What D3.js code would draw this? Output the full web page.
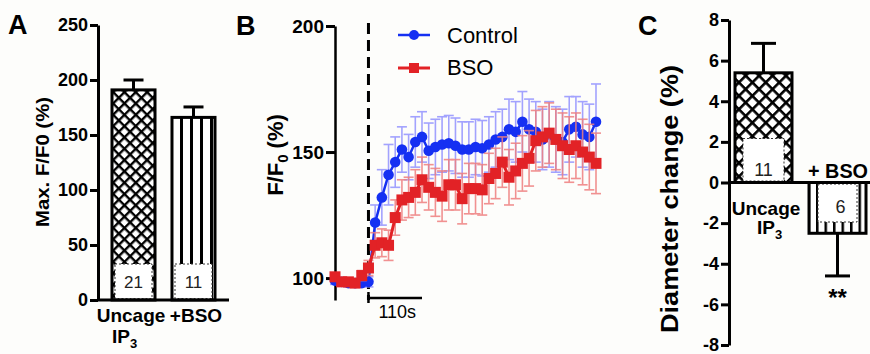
<!DOCTYPE html>
<html>
<head>
<meta charset="utf-8">
<script src="https://cdn.jsdelivr.net/npm/d3@7"></script>
<style>
  body { margin: 0; background: #fdfdfb; }
  svg { display: block; font-family: "Liberation Sans", Arial, sans-serif; }
</style>
</head>
<body>
<div id="chart"></div>
<script>
// ---- panel A: max F/F0
const groupsA = ['Uncage', '+BSO']
const maxF = [191, 166]
const maxFErr = [9, 9.5]
const countsA = [21, 11]
const ticksA = [0, 50, 100, 150, 200, 250]

// ---- panel B: F/F0 time course (frames every 13.75 s, uncaging at frame 5)
const frameSec = 13.75
const uncageFrame = 5
const scaleBarSec = 110
const controlMean = [99, 98.5, 98, 98, 98, 98.5, 122, 132, 141, 146, 151, 148, 154, 156, 150.5, 152, 153, 153.5, 152.5, 151,
  151, 152, 151.5, 153, 155, 156, 159, 158, 162, 159, 158, 155, 157, 155, 154, 159, 160, 157, 156, 162]
const controlSem = [1.5, 1.5, 1.5, 1.5, 1.5, 2, 7, 11, 12, 10, 9, 9, 10, 10, 11, 11, 11, 11, 11, 11,
  11, 11, 11, 11, 11, 11, 12, 12, 12, 12, 12, 12, 13, 13, 13, 13, 12, 13, 13, 15]
const bsoMean = [100.5, 98.5, 98.5, 98, 101, 104, 113, 114, 113, 124, 131, 132, 134, 139, 136, 134, 132.5, 137, 137, 131.5,
  135.5, 135.5, 135, 139.5, 141.5, 146, 140, 142.5, 145.5, 147.5, 154.5, 156, 157.5, 155, 152.5, 151, 152.5, 150, 148, 145.5]
const bsoSem = [1.5, 1.5, 1.5, 1.5, 2, 3, 5, 5.5, 6, 7, 8, 8, 9, 9, 9, 9.5, 10, 10, 10, 10,
  10, 10, 10, 10, 10, 10, 11, 11, 11, 11, 12, 12, 12, 12, 13, 13, 13, 13, 13, 12]
const ticksB = [100, 150, 200]
const timeSec = controlMean.map((d, i) => i * frameSec)

// ---- panel C: diameter change
const groupsC = ['Uncage', '+ BSO']
const diamChange = [5.4, -2.5]
const diamErr = [1.45, 2.1]
const countsC = [11, 6]
const ticksC = [-8, -6, -4, -2, 0, 2, 4, 6, 8]

const svg = d3.select('#chart').append('svg')
  .attr('width', 870)
  .attr('height', 354)

const defs = svg.append('defs')

function crossHatch(id, size, lw) {
  const p = defs.append('pattern').attr('id', id)
    .attr('patternUnits', 'userSpaceOnUse')
    .attr('width', size).attr('height', size)
    .attr('patternTransform', 'rotate(45)')
  p.append('rect').attr('width', size).attr('height', size).attr('fill', '#000')
  p.append('rect').attr('x', lw).attr('y', lw)
    .attr('width', size - lw).attr('height', size - lw).attr('fill', '#fff')
}
function stripes(id, size, lw) {
  const p = defs.append('pattern').attr('id', id)
    .attr('patternUnits', 'userSpaceOnUse')
    .attr('width', size).attr('height', size)
  p.append('rect').attr('width', size).attr('height', size).attr('fill', '#fff')
  p.append('rect').attr('width', lw).attr('height', size).attr('fill', '#000')
}
crossHatch('hatchA', 8, 2.4)
crossHatch('hatchC', 9.5, 2.6)
stripes('stripesA', 10, 3)
stripes('stripesC', 8.5, 2.5)

function styleAxis(g, size) {
  g.select('.domain').attr('stroke-width', 3)
  g.selectAll('.tick line').attr('stroke-width', 3)
  g.selectAll('.tick text')
    .attr('font-size', size)
    .attr('font-weight', 'bold')
    .attr('fill', '#000')
    .attr('font-family', '"Liberation Sans", Arial, sans-serif')
}

function panelLetter(txt, x, y) {
  svg.append('text').attr('x', x).attr('y', y)
    .attr('font-size', 27).attr('font-weight', 'bold').text(txt)
}

// ================= A =================
const xA = d3.scaleBand().domain(groupsA).range([112, 215]).paddingInner(0.283)
const yA = d3.scaleLinear().domain([0, 250]).range([300, 25])
const gA = svg.append('g')

gA.selectAll('line.err').data(groupsA).join('line')
  .attr('x1', d => xA(d) + xA.bandwidth() / 2).attr('x2', d => xA(d) + xA.bandwidth() / 2)
  .attr('y1', (d, i) => yA(maxF[i])).attr('y2', (d, i) => yA(maxF[i] + maxFErr[i]))
  .attr('stroke', '#000').attr('stroke-width', 3)
gA.selectAll('line.cap').data(groupsA).join('line')
  .attr('x1', d => xA(d) + xA.bandwidth() / 2 - 10).attr('x2', d => xA(d) + xA.bandwidth() / 2 + 10)
  .attr('y1', (d, i) => yA(maxF[i] + maxFErr[i])).attr('y2', (d, i) => yA(maxF[i] + maxFErr[i]))
  .attr('stroke', '#000').attr('stroke-width', 3)

gA.selectAll('rect.bar').data(groupsA).join('rect')
  .attr('x', d => xA(d))
  .attr('y', (d, i) => yA(maxF[i]))
  .attr('width', xA.bandwidth())
  .attr('height', (d, i) => yA(0) - yA(maxF[i]))
  .attr('fill', (d, i) => i ? 'url(#stripesA)' : 'url(#hatchA)')
  .attr('stroke', '#000').attr('stroke-width', 3)

gA.selectAll('rect.box').data(groupsA).join('rect')
  .attr('x', d => xA(d) + 3).attr('y', yA(0) - 36)
  .attr('width', xA.bandwidth() - 6).attr('height', 34.5)
  .attr('fill', '#fff').attr('stroke', '#333').attr('stroke-width', 1)
  .attr('stroke-dasharray', '2,2')
gA.selectAll('text.n').data(groupsA).join('text')
  .attr('x', d => xA(d) + xA.bandwidth() / 2).attr('y', 288)
  .attr('text-anchor', 'middle').attr('font-size', 17).attr('fill', '#222')
  .text((d, i) => countsA[i])

const axA = gA.append('g').attr('transform', 'translate(98,0)')
  .call(d3.axisLeft(yA).tickValues(ticksA).tickSize(8).tickSizeOuter(0).tickPadding(2))
styleAxis(axA, 18)
gA.append('line').attr('x1', 98).attr('x2', 229).attr('y1', yA(0)).attr('y2', yA(0))
  .attr('stroke', '#000').attr('stroke-width', 3)

gA.append('text').attr('transform', 'translate(49,162) rotate(-90)')
  .attr('text-anchor', 'middle').attr('font-size', 18).attr('font-weight', 'bold')
  .attr('textLength', 130).attr('lengthAdjust', 'spacingAndGlyphs')
  .text('Max. F/F0 (%)')
gA.append('text').attr('x', 131).attr('y', 322).attr('text-anchor', 'middle')
  .attr('font-size', 19).attr('font-weight', 'bold').text('Uncage')
gA.append('text').attr('x', 196).attr('y', 322).attr('text-anchor', 'middle')
  .attr('font-size', 19).attr('font-weight', 'bold').text('+BSO')
const ipA = gA.append('text').attr('x', 112).attr('y', 343)
  .attr('font-size', 19).attr('font-weight', 'bold')
ipA.append('tspan').text('IP')
ipA.append('tspan').attr('font-size', 13).attr('dy', 5).text('3')
panelLetter('A', 8, 34)

// ================= B =================
const xB = d3.scaleLinear().domain([0, d3.max(timeSec)]).range([335, 596])
const yB = d3.scaleLinear().domain([91.3, 200]).range([300, 26])
const gB = svg.append('g')

const axB = gB.append('g').attr('transform', 'translate(335,0)')
  .call(d3.axisLeft(yB).tickValues(ticksB).tickSize(9).tickSizeOuter(0).tickPadding(2))
styleAxis(axB, 19)
axB.select('.domain').attr('stroke-width', 2.5)

const uncageX = xB(uncageFrame * frameSec)
gB.append('line').attr('x1', uncageX).attr('x2', uncageX).attr('y1', 23).attr('y2', 300)
  .attr('stroke', '#000').attr('stroke-width', 3).attr('stroke-dasharray', '11,6')
gB.append('line').attr('x1', uncageX).attr('x2', xB(uncageFrame * frameSec + scaleBarSec))
  .attr('y1', 298).attr('y2', 298).attr('stroke', '#000').attr('stroke-width', 2.5)
gB.append('line').attr('x1', uncageX).attr('x2', uncageX).attr('y1', 292).attr('y2', 303)
  .attr('stroke', '#000').attr('stroke-width', 2.5)
gB.append('text').attr('x', (uncageX + xB(uncageFrame * frameSec + scaleBarSec)) / 2 + 2).attr('y', 318)
  .attr('text-anchor', 'middle').attr('font-size', 18).text(scaleBarSec + 's')

function errorBars(g, mean, sem, color) {
  const eg = g.append('g').attr('stroke', color).attr('stroke-width', 1.6).attr('opacity', 0.85)
  eg.selectAll('line.v').data(mean).join('line')
    .attr('x1', (d, i) => xB(timeSec[i])).attr('x2', (d, i) => xB(timeSec[i]))
    .attr('y1', (d, i) => yB(d - sem[i])).attr('y2', (d, i) => yB(d + sem[i]))
  eg.selectAll('line.t').data(mean).join('line')
    .attr('x1', (d, i) => xB(timeSec[i]) - 5).attr('x2', (d, i) => xB(timeSec[i]) + 5)
    .attr('y1', (d, i) => yB(d + sem[i])).attr('y2', (d, i) => yB(d + sem[i]))
  eg.selectAll('line.b').data(mean).join('line')
    .attr('x1', (d, i) => xB(timeSec[i]) - 5).attr('x2', (d, i) => xB(timeSec[i]) + 5)
    .attr('y1', (d, i) => yB(d - sem[i])).attr('y2', (d, i) => yB(d - sem[i]))
}
const lineB = d3.line().x((d, i) => xB(timeSec[i])).y(d => yB(d))

const blue = '#1530f2'
const red = '#e22226'
const sq = 11

errorBars(gB, controlMean, controlSem, '#9393ff')
gB.append('path').datum(controlMean).attr('d', lineB)
  .attr('fill', 'none').attr('stroke', blue).attr('stroke-width', 2.5)
gB.selectAll('circle.ctrl').data(controlMean).join('circle')
  .attr('cx', (d, i) => xB(timeSec[i])).attr('cy', d => yB(d)).attr('r', 5.3).attr('fill', blue)

errorBars(gB, bsoMean, bsoSem, '#ef7f7f')
gB.append('path').datum(bsoMean).attr('d', lineB)
  .attr('fill', 'none').attr('stroke', red).attr('stroke-width', 3)
gB.selectAll('rect.bso').data(bsoMean).join('rect')
  .attr('x', (d, i) => xB(timeSec[i]) - sq / 2).attr('y', d => yB(d) - sq / 2)
  .attr('width', sq).attr('height', sq).attr('fill', red)

// legend
const leg = gB.append('g')
leg.append('line').attr('x1', 398).attr('x2', 430).attr('y1', 35).attr('y2', 35)
  .attr('stroke', blue).attr('stroke-width', 2.5)
leg.append('circle').attr('cx', 414).attr('cy', 35).attr('r', 5).attr('fill', blue)
leg.append('text').attr('x', 447).attr('y', 43).attr('font-size', 22).text('Control')
leg.append('line').attr('x1', 398).attr('x2', 430).attr('y1', 68).attr('y2', 68)
  .attr('stroke', red).attr('stroke-width', 3)
leg.append('rect').attr('x', 414 - 5).attr('y', 68 - 5).attr('width', 10).attr('height', 10).attr('fill', red)
leg.append('text').attr('x', 447).attr('y', 75).attr('font-size', 22).text('BSO')

const labB = gB.append('text').attr('transform', 'translate(283,155) rotate(-90)')
  .attr('text-anchor', 'middle').attr('font-size', 22).attr('font-weight', 'bold')
labB.append('tspan').text('F/F')
labB.append('tspan').attr('font-size', 15).attr('dy', 5).text('0')
labB.append('tspan').attr('dy', -5).text(' (%)')
panelLetter('B', 236, 35)

// ================= C =================
const xC = d3.scaleBand().domain(groupsC).range([735, 866]).paddingInner(0.23)
const yC = d3.scaleLinear().domain([-8, 8]).range([345, 20])
const gC = svg.append('g')

const capY = (v, e) => v >= 0 ? yC(v + e) : yC(v - e)
gC.selectAll('line.err').data(groupsC).join('line')
  .attr('x1', d => xC(d) + xC.bandwidth() / 2).attr('x2', d => xC(d) + xC.bandwidth() / 2)
  .attr('y1', (d, i) => yC(diamChange[i])).attr('y2', (d, i) => capY(diamChange[i], diamErr[i]))
  .attr('stroke', '#000').attr('stroke-width', 3)
gC.selectAll('line.cap').data(groupsC).join('line')
  .attr('x1', d => xC(d) + xC.bandwidth() / 2 - 12.5).attr('x2', d => xC(d) + xC.bandwidth() / 2 + 12.5)
  .attr('y1', (d, i) => capY(diamChange[i], diamErr[i])).attr('y2', (d, i) => capY(diamChange[i], diamErr[i]))
  .attr('stroke', '#000').attr('stroke-width', 3)

gC.selectAll('rect.bar').data(groupsC).join('rect')
  .attr('x', d => xC(d))
  .attr('y', (d, i) => yC(Math.max(0, diamChange[i])))
  .attr('width', xC.bandwidth())
  .attr('height', (d, i) => Math.abs(yC(diamChange[i]) - yC(0)))
  .attr('fill', (d, i) => i ? 'url(#stripesC)' : 'url(#hatchC)')
  .attr('stroke', '#000').attr('stroke-width', 3)

// count boxes
gC.append('rect').attr('x', xC(groupsC[0]) + 8).attr('y', yC(0) - 44)
  .attr('width', xC.bandwidth() - 16).attr('height', 42.5)
  .attr('fill', '#fff').attr('stroke', '#333').attr('stroke-width', 1).attr('stroke-dasharray', '2,2')
gC.append('rect').attr('x', xC(groupsC[1]) + 9).attr('y', yC(0) + 1.5)
  .attr('width', xC.bandwidth() - 18).attr('height', 38)
  .attr('fill', '#fff').attr('stroke', '#333').attr('stroke-width', 1).attr('stroke-dasharray', '2,2')
gC.append('text').attr('x', xC(groupsC[0]) + xC.bandwidth() / 2).attr('y', 176)
  .attr('text-anchor', 'middle').attr('font-size', 18).attr('fill', '#222').text(countsC[0])
gC.append('text').attr('x', xC(groupsC[1]) + xC.bandwidth() / 2 + 3).attr('y', 213)
  .attr('text-anchor', 'middle').attr('font-size', 18).attr('fill', '#222').text(countsC[1])

const axC = gC.append('g').attr('transform', 'translate(729,0)')
  .call(d3.axisLeft(yC).tickValues(ticksC).tickSize(8).tickSizeOuter(0).tickPadding(2)
    .tickFormat(d => String(d)))
styleAxis(axC, 18)
gC.append('line').attr('x1', 729).attr('x2', 870).attr('y1', yC(0)).attr('y2', yC(0))
  .attr('stroke', '#000').attr('stroke-width', 3)

gC.append('text').attr('transform', 'translate(678,199) rotate(-90)')
  .attr('text-anchor', 'middle').attr('font-size', 24).attr('font-weight', 'bold')
  .attr('textLength', 268).attr('lengthAdjust', 'spacingAndGlyphs')
  .text('Diameter change (%)')
gC.append('text').attr('x', 766).attr('y', 215).attr('text-anchor', 'middle')
  .attr('font-size', 19).attr('font-weight', 'bold').text('Uncage')
const ipC = gC.append('text').attr('x', 757).attr('y', 234)
  .attr('font-size', 19).attr('font-weight', 'bold')
ipC.append('tspan').text('IP')
ipC.append('tspan').attr('font-size', 13).attr('dy', 5).text('3')
gC.append('text').attr('x', 808).attr('y', 178)
  .attr('font-size', 20).attr('font-weight', 'bold')
  .attr('textLength', 60).attr('lengthAdjust', 'spacingAndGlyphs').text(groupsC[1])
gC.append('text').attr('x', xC(groupsC[1]) + xC.bandwidth() / 2).attr('y', 306)
  .attr('text-anchor', 'middle').attr('font-size', 24).attr('font-weight', 'bold').text('**')
panelLetter('C', 638, 35)
</script>
</body>
</html>
